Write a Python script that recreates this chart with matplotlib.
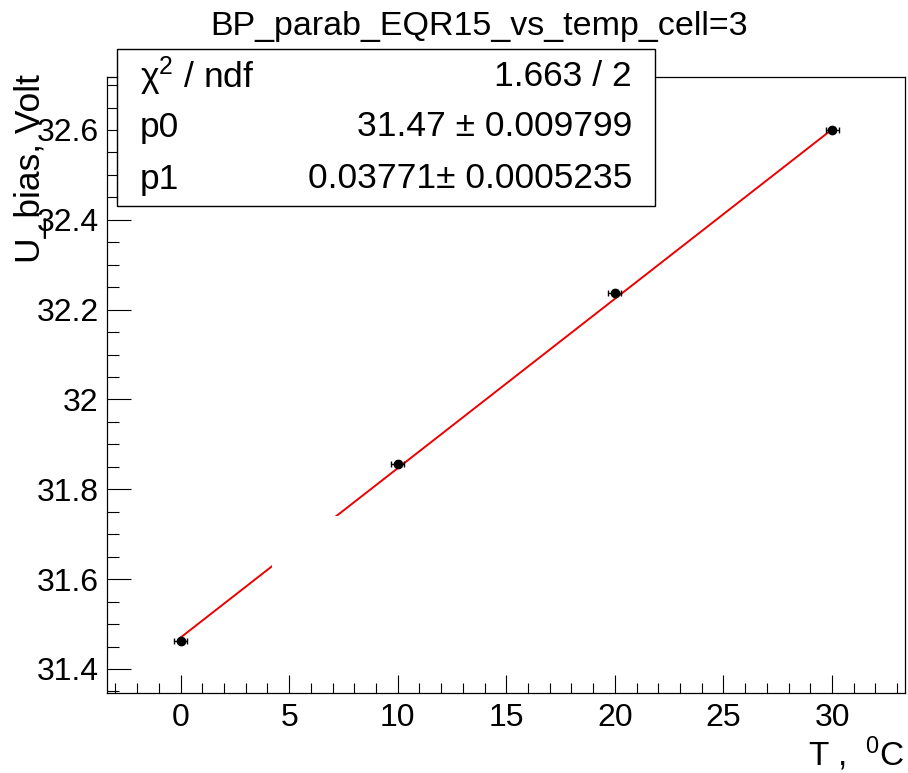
import matplotlib
matplotlib.use("Agg")
import matplotlib.pyplot as plt
from matplotlib.patches import Rectangle
import numpy as np

plt.rcParams['font.family'] = ['Liberation Sans', 'DejaVu Sans']
plt.rcParams['mathtext.fontset'] = 'custom'
plt.rcParams['mathtext.rm'] = 'Liberation Sans'
plt.rcParams['mathtext.it'] = 'Liberation Sans:italic'

# data
temps = [0, 10, 20, 30]
ubias = [31.462, 31.857, 32.238, 32.600]
temp_err = [0.3, 0.3, 0.3, 0.3]
ubias_err = [0.005, 0.005, 0.005, 0.005]
fit_p0 = 31.47
fit_p1 = 0.03771
stats_labels = ["χ$^{2}$ / ndf", "p0", "p1"]
stats_values = ["1.663 / 2", "31.47 ± 0.009799", "0.03771± 0.0005235"]
title = "BP_parab_EQR15_vs_temp_cell=3"

W, H = 908, 773
fig = plt.figure(figsize=(W / 100, H / 100), dpi=100)

def fx(px):
    return px / W

def fy(py):
    return 1 - py / H

L, R, T, B = 107, 905, 77, 693
ax = fig.add_axes([fx(L), fy(B), fx(R) - fx(L), fy(T) - fy(B)])

xfit = np.array([temps[0], temps[-1]])
ax.plot(xfit, fit_p0 + fit_p1 * xfit, color='#ee0000', lw=1.4, zorder=2)
ax.errorbar(temps, ubias, xerr=temp_err, yerr=ubias_err, fmt='o', color='black',
            ms=6, elinewidth=1, capsize=2, capthick=1, zorder=3)

ax.set_xlim(-3.39, 33.36)
ax.set_ylim(31.3465, 32.718)
ax.set_xticks(np.arange(0, 31, 5))
ax.set_xticks(np.arange(-3, 34, 1), minor=True)
ax.set_yticks([31.4, 31.6, 31.8, 32.0, 32.2, 32.4, 32.6])
ax.set_yticklabels(["31.4", "31.6", "31.8", "32", "32.2", "32.4", "32.6"])
ax.set_yticks(np.arange(31.35, 32.72, 0.05), minor=True)
ax.tick_params(axis='both', which='both', direction='in', top=False, right=False,
               width=0.8, labelsize=23)
ax.tick_params(axis='x', which='major', length=13, pad=7)
ax.tick_params(axis='x', which='minor', length=7)
ax.tick_params(axis='y', which='major', length=17, pad=6)
ax.tick_params(axis='y', which='minor', length=8.5)
for s in ax.spines.values():
    s.set_linewidth(0.9)

# axis titles
fig.text(fx(905), fy(754), "T ,  $^{0}$C", ha='right', va='center', fontsize=24)
fig.text(fx(31), fy(74), "U_bias, Volt", ha='center', va='top', rotation=90, fontsize=25.5)

# title
fig.text(fx(479), fy(27), title, ha='center', va='center', fontsize=24.5)

# white occluding pad
fig.patches.append(Rectangle((fx(272), fy(640)), fx(500) - fx(272), fy(516) - fy(640),
                             transform=fig.transFigure, facecolor='white',
                             edgecolor='none', zorder=5))

# stats box
bx0, bx1, by0, by1 = 117, 655, 49, 206
fig.patches.append(Rectangle((fx(bx0), fy(by1)), fx(bx1) - fx(bx0), fy(by0) - fy(by1),
                             transform=fig.transFigure, facecolor='white',
                             edgecolor='black', lw=1.0, zorder=6))
rows_y = [76, 127, 179]
for lab, val, yy in zip(stats_labels, stats_values, rows_y):
    fig.text(fx(140), fy(yy), lab, ha='left', va='center', fontsize=25.5, zorder=7)
    fig.text(fx(632), fy(yy), val, ha='right', va='center', fontsize=25.5, zorder=7)

fig.savefig("out.png", dpi=100)
